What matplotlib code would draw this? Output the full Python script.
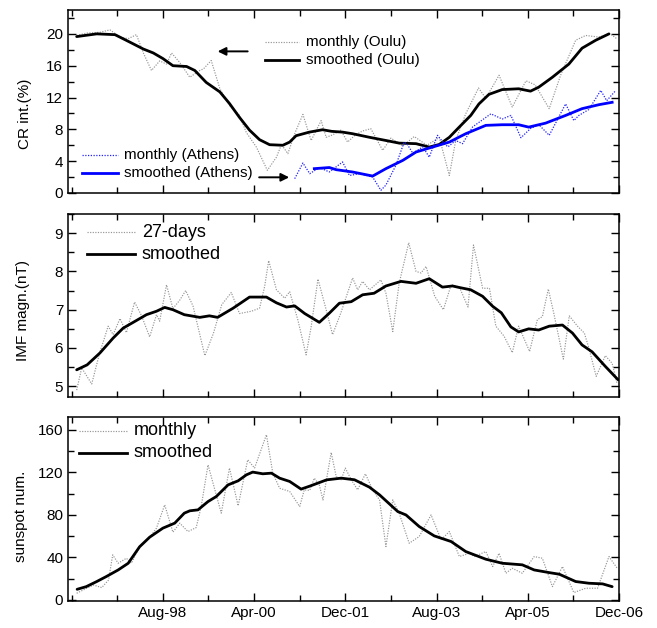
import matplotlib
matplotlib.use("Agg")
import matplotlib.pyplot as plt
from matplotlib.ticker import MultipleLocator, FixedLocator

plt.rcParams['font.family'] = ['Liberation Sans', 'DejaVu Sans']

# x: months since Dec-1996
tick_months = [20, 40, 60, 80, 100, 120]
tick_labels = ['Aug-98', 'Apr-00', 'Dec-01', 'Aug-03', 'Apr-05', 'Dec-06']

# ---- Cosmic rays ----
oulu_s_x = [1.1, 5.5, 9.5, 12.8, 15.7, 17.9, 20, 22.2, 25.2, 27, 29.5, 32.5, 34.6, 36.8, 39, 41.2,
            43.4, 46.3, 47.8, 49.2, 52.1, 55, 57, 59.4, 61.6, 65.3, 68.9, 71.8, 75.5, 78.4, 80.6,
            82.8, 85, 87.5, 89.3, 91.5, 94.4, 98, 100.6, 102.4, 105.4, 109, 111.9, 114.9, 117.8]
oulu_s_y = [19.66, 20.0, 19.9, 18.95, 18.1, 17.6, 16.9, 16.0, 15.9, 15.4, 13.9, 12.7, 11.25, 9.5, 7.9, 6.7,
            6.07, 6.0, 6.4, 7.2, 7.65, 7.95, 7.75, 7.65, 7.45, 7.0, 6.6, 6.27, 6.2, 5.77, 6.1,
            7.0, 8.3, 9.75, 11.2, 12.4, 13.0, 13.1, 12.8, 13.3, 14.55, 16.2, 18.2, 19.2, 20.0]

oulu_m_x = [1.1, 3.3, 6.2, 8.4, 10.6, 12.4, 14.2, 15.8, 17.5, 19.3, 20.8, 21.9, 23.7, 25.9, 28.1, 28.9,
            30.6, 32.5, 34.6, 36.8, 38.3, 40.5, 42.9, 44.9, 46, 47.4, 49, 50.7, 52.5, 54.7, 55.8,
            57.2, 59, 60.5, 62.2, 63.8, 65.6, 68.2, 70, 72.6, 75.1, 77.9, 80.6, 82.8, 84.2, 86.4,
            89.2, 90.8, 93.7, 96.6, 99.6, 101.6, 104.7, 107.2, 110.5, 112.7, 115.5, 118.1, 119.5]
oulu_m_y = [19.8, 20.1, 20.2, 20.5, 19.6, 19.4, 19.9, 17.5, 15.4, 16.6, 16.2, 17.6, 16.4, 14.55, 15.4, 15.6,
            16.65, 13.1, 11.0, 9.75, 7.6, 5.77, 2.85, 4.5, 6.1, 4.94, 7.6, 9.88, 6.6, 9.1, 7.0,
            7.3, 7.9, 6.4, 7.3, 7.8, 8.08, 5.36, 6.9, 5.9, 7.1, 6.0, 6.98, 2.2, 6.6, 9.96,
            13.2, 11.9, 14.8, 10.8, 14.1, 13.6, 10.6, 14.8, 19.2, 19.8, 19.6, 20.0, 19.4]

ath_s_x = [53.2, 56.5, 58, 61.6, 66, 68.9, 72.6, 75.5, 79.1, 82.8, 86.4, 90.8, 94.4, 98, 100.2,
           103.9, 108.3, 111.9, 115.6, 118.5]
ath_s_y = [3.06, 3.2, 2.93, 2.64, 2.13, 3.06, 4.1, 5.15, 5.77, 6.4, 7.45, 8.5, 8.58, 8.58, 8.28,
           8.78, 9.75, 10.6, 11.1, 11.4]

ath_m_x = [48.9, 50.7, 52.2, 54.3, 56.5, 59.4, 60.9, 63.1, 66, 67.8, 68.9, 71.1, 72.9, 73.6, 74.8,
           77, 78.4, 80.2, 81.7, 82.5, 84.2, 85.7, 87.9, 91.9, 94.4, 96.3, 98.5, 100.6, 102.4,
           104.7, 108.3, 110.1, 111.2, 113.4, 116, 117.3, 119.3]
ath_m_y = [1.8, 3.77, 2.43, 3.2, 2.64, 3.9, 2.2, 2.43, 2.0, 0.34, 1.0, 3.5, 6.4, 6.1, 5.0,
           5.8, 4.5, 7.25, 6.2, 5.8, 6.6, 6.2, 8.3, 9.95, 9.3, 9.75, 6.95, 8.1, 8.6,
           7.25, 11.2, 9.1, 9.75, 10.5, 12.9, 11.6, 12.9]

# ---- IMF ----
imf_s_x = [1.1, 3.4, 6.2, 9.1, 11.3, 13.5, 16.4, 18.6, 20.4, 22.2, 24.7, 28.1, 30.2, 32, 35.4, 39,
           42.7, 44.9, 47.1, 48.9, 51.1, 54.3, 56.5, 58.7, 61.3, 63.8, 66.3, 68.9, 72.2, 75.5,
           78.4, 81.3, 83.5, 85, 87.5, 90.1, 92.3, 94.2, 96.3, 98, 100.2, 102.4, 104.7, 107.6,
           109.8, 111.9, 114.1, 117, 119.8]
imf_s_y = [5.43, 5.56, 5.87, 6.26, 6.52, 6.67, 6.87, 6.96, 7.06, 7.0, 6.87, 6.8, 6.84, 6.8, 7.04, 7.33,
           7.33, 7.18, 7.07, 7.1, 6.9, 6.67, 6.91, 7.17, 7.21, 7.39, 7.43, 7.62, 7.74, 7.69,
           7.81, 7.59, 7.62, 7.58, 7.52, 7.35, 7.09, 6.92, 6.55, 6.42, 6.5, 6.47, 6.57, 6.6,
           6.39, 6.08, 5.9, 5.52, 5.17]

imf_m_x = [1.1, 2.2, 4.4, 6.2, 6.9, 8.0, 9.1, 10.6, 12, 13.8, 15.3, 17.1, 18.6, 19.3, 20.8, 22.2,
           23.7, 25, 26.6, 29.2, 31.1, 32.9, 35, 36.8, 39.4, 41.2, 42.3, 43.2, 44.9, 46.7, 47.8,
           49.6, 51.4, 52.5, 54, 55.8, 57.2, 59, 61.6, 62.7, 63.8, 65.3, 67.8, 68.9, 70.4, 71.8,
           73.9, 75.5, 76.6, 77.7, 79.6, 81.5, 83.2, 85, 86.9, 88.1, 90.1, 91.6, 93, 94.8, 96.6,
           98, 100.4, 102.1, 103.2, 104.5, 105.7, 107.8, 109.1, 110.9, 112.4, 113.3, 115, 117,
           118.5, 119.6]
imf_m_y = [4.9, 5.48, 5.06, 5.9, 6.15, 6.57, 6.35, 6.77, 6.4, 7.2, 6.85, 6.29, 6.87, 6.7, 7.65, 7.03,
           7.25, 7.5, 7.1, 5.8, 6.39, 7.13, 7.45, 6.9, 6.96, 7.04, 7.6, 8.28, 7.52, 7.3, 7.47,
           6.73, 5.82, 6.55, 7.8, 7.0, 6.35, 6.91, 7.83, 7.52, 7.74, 7.52, 7.78, 7.43, 6.43, 7.69,
           8.75, 8.0, 7.96, 8.13, 7.35, 7.0, 7.65, 7.59, 7.07, 8.69, 7.56, 7.56, 6.57, 6.31, 5.88,
           6.57, 5.91, 6.74, 6.82, 7.54, 6.91, 5.71, 6.84, 6.57, 6.39, 6.04, 5.26, 5.8,
           5.6, 5.06]

# ---- Sunspots ----
ssn_s_x = [1.2, 3.2, 5.5, 7.6, 10.2, 12.4, 14.9, 17.1, 20, 22.6, 24.7, 25.9, 27.7, 29.9, 31.7, 34.3,
           36.5, 38.3, 39.7, 41.9, 43.8, 45.6, 47.8, 50.3, 52.2, 55.9, 59.1, 62, 65.3, 67.5,
           71.5, 73.3, 76.2, 79.5, 83.2, 86.4, 90.8, 94.4, 98.8, 101.4, 104.7, 106.9, 110.5,
           113.4, 116.4, 118.5]
ssn_s_y = [10, 12.5, 17.3, 22, 28.2, 34.5, 50, 59, 67.5, 72.2, 81.6, 83.8, 84.7, 92.5, 97.2, 108.2,
           112, 117.6, 120.2, 118.6, 119.2, 114.5, 111.4, 104.2, 107, 112.9, 114.5, 113, 106, 98.8,
           83.1, 79.9, 69, 60.2, 54.9, 45.5, 38.3, 34.5, 33, 28.2, 25.7, 24.2, 17.3,
           15.7, 15.1, 12.5]

ssn_m_x = [1.1, 3.3, 4.8, 6.6, 8.1, 9, 10.2, 12, 13.1, 14.9, 16.7, 18.6, 20.4, 22.2, 23.7, 25.5,
           27.3, 28.4, 29.9, 31.7, 32.8, 34.6, 36.5, 38.6, 40.1, 42.7, 44.1, 45.6, 47.8, 50,
           51, 52.2, 53.2, 54.3, 55.1, 56.9, 58, 59.1, 60, 61.3, 62.7, 64.4, 66, 67.5, 68.9,
           70.4, 71.8, 74, 76.2, 78.8, 81, 82.8, 85, 87.2, 88.3, 90.8, 92.3, 93.7, 95.2, 96.6,
           98.8, 101.4, 103.2, 105.4, 107.6, 110.1, 112.7, 115.3, 117.8, 119.6]
ssn_m_y = [6.3, 11, 14, 11.6, 18.8, 42.4, 34.5, 39.2, 34.5, 50.2, 56.5, 67.5, 89.4, 63.7, 72.2, 64.3,
           68, 87.8, 127, 98.8, 81.6, 124, 88.5, 131.8, 124, 155.3, 119.2, 105, 102, 87.8,
           103.5, 103, 114.5, 108, 94, 138.6, 116, 113, 124, 113, 103.5, 118.6, 103.5, 94, 50.2,
           94.1, 81.6, 53.3, 59.6, 80, 56.5, 64.3, 40.8, 43.9, 40.8, 45.5, 31.4, 43.9, 25.1, 29.8,
           25.1, 40.8, 39.2, 12.5, 31.4, 6.9, 11, 11, 40.8, 29.8]

W, H = 657, 628
fig = plt.figure(figsize=(W / 100, H / 100), dpi=100)

def px_axes(top, bottom, left=68, right=619):
    return fig.add_axes([left / W, 1 - bottom / H, (right - left) / W, (bottom - top) / H])

ax1 = px_axes(10, 193)
ax2 = px_axes(214, 397)
ax3 = px_axes(417, 601)

gray = '#959595'
dot = (0, (1, 1.2))
smooth_kw = dict(color='black', lw=2, solid_joinstyle='round', solid_capstyle='round')
dotted_kw = dict(color=gray, lw=0.85, linestyle=dot)

def style(ax, ymajor, yminor, ylim):
    ax.set_xlim(-0.8, 120)
    ax.set_ylim(*ylim)
    ax.xaxis.set_major_locator(FixedLocator(tick_months))
    ax.xaxis.set_minor_locator(FixedLocator([0, 10, 30, 50, 70, 90, 110]))
    ax.yaxis.set_major_locator(MultipleLocator(ymajor))
    ax.yaxis.set_minor_locator(MultipleLocator(yminor))
    ax.tick_params(which='both', direction='in', top=True, right=True, labelsize=11, width=1)
    ax.tick_params(which='major', length=6)
    ax.tick_params(which='minor', length=4)
    for s in ax.spines.values():
        s.set_linewidth(1.1)

# Top panel
ax1.plot(oulu_m_x, oulu_m_y, **dotted_kw)
ax1.plot(oulu_s_x, oulu_s_y, **smooth_kw)
ax1.plot(ath_m_x, ath_m_y, color='#2222ff', lw=0.9, linestyle=dot)
ax1.plot(ath_s_x, ath_s_y, color='#0000ff', lw=2, solid_joinstyle='round')
style(ax1, 4, 2, (0, 23))
ax1.set_xticklabels([])
ax1.set_ylabel('CR int.(%)', fontsize=11)
ax1.yaxis.set_label_coords(-0.066, 0.43)
ax1.annotate('', xy=(31.4, 17.8), xytext=(39.2, 17.8),
             arrowprops=dict(arrowstyle='-|>', color='black', lw=1.4, mutation_scale=12))
ax1.annotate('', xy=(48.3, 1.97), xytext=(40.5, 1.97),
             arrowprops=dict(arrowstyle='-|>', color='black', lw=1.4, mutation_scale=12))

def leg(ax, x0, x1, y, style_kw, text, fs):
    ax.plot([x0, x1], [y, y], transform=ax.transAxes, clip_on=False, **style_kw)
    ax.text(x1 + 0.012, y, text, transform=ax.transAxes, fontsize=fs, va='center', ha='left')

leg(ax1, 0.357, 0.42, 0.825, dotted_kw, 'monthly (Oulu)', 11)
leg(ax1, 0.357, 0.42, 0.727, dict(color='black', lw=2), 'smoothed (Oulu)', 11)
leg(ax1, 0.025, 0.09, 0.208, dict(color='#2222ff', lw=0.9, linestyle=dot), 'monthly (Athens)', 11)
leg(ax1, 0.025, 0.09, 0.11, dict(color='#0000ff', lw=2), 'smoothed (Athens)', 11)

# Middle panel
ax2.plot(imf_m_x, imf_m_y, **dotted_kw)
ax2.plot(imf_s_x, imf_s_y, **smooth_kw)
style(ax2, 1, 0.5, (4.72, 9.5))
ax2.set_xticklabels([])
ax2.set_ylabel('IMF magn.(nT)', fontsize=11)
ax2.yaxis.set_label_coords(-0.069, 0.47)
leg(ax2, 0.034, 0.122, 0.9, dotted_kw, '27-days', 13)
leg(ax2, 0.034, 0.122, 0.78, dict(color='black', lw=2), 'smoothed', 13)

# Bottom panel
ax3.plot(ssn_m_x, ssn_m_y, **dotted_kw)
ax3.plot(ssn_s_x, ssn_s_y, **smooth_kw)
style(ax3, 40, 20, (-1, 172))
ax3.set_xticklabels(tick_labels)
ax3.set_ylabel('sunspot num.', fontsize=11)
ax3.yaxis.set_label_coords(-0.073, 0.46)
leg(ax3, 0.02, 0.107, 0.925, dotted_kw, 'monthly', 13)
leg(ax3, 0.02, 0.107, 0.805, dict(color='black', lw=2), 'smoothed', 13)

fig.savefig('out.png', dpi=100)
